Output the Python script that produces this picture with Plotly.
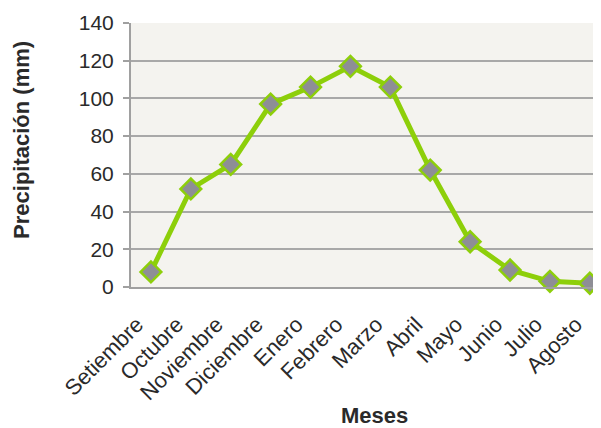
import plotly.graph_objects as go

meses = ["Setiembre", "Octubre", "Noviembre", "Diciembre", "Enero", "Febrero",
         "Marzo", "Abril", "Mayo", "Junio", "Julio", "Agosto"]
precipitacion = [8, 52, 65, 97, 106, 117, 106, 62, 24, 9, 3, 2]
y_ticks = [0, 20, 40, 60, 80, 100, 120, 140]

fig = go.Figure()
fig.add_trace(go.Scatter(
    x=list(range(len(meses))), y=precipitacion, mode="lines+markers",
    line=dict(color="#8DCF0A", width=5),
    marker=dict(symbol="diamond", size=16, color="#8E8E96",
                line=dict(color="#8DCF0A", width=2.5)),
    cliponaxis=False, showlegend=False,
))

font = "Liberation Sans, Arial, sans-serif"
txt = "#2A2A2A"
fig.update_layout(
    width=593, height=420,
    margin=dict(l=123, r=0, t=15, b=141),
    paper_bgcolor="white", plot_bgcolor="#F4F3EF",
    font=dict(family=font, color=txt),
    xaxis=dict(
        range=[-0.5, 11.28], tickmode="array",
        tickvals=list(range(len(meses))), ticktext=meses,
        tickangle=-45, tickfont=dict(size=22, color=txt),
        ticklabelstandoff=14, ticklabelshift=-14,
        showgrid=False, showline=True, linecolor="#A0A0A0", linewidth=2,
        ticks="", zeroline=False,
    ),
    yaxis=dict(
        range=[0, 140], tickmode="array", tickvals=y_ticks,
        tickfont=dict(size=21, color=txt), ticklabelstandoff=5,
        showgrid=True, gridcolor="#A8A8A8", gridwidth=2,
        showline=True, linecolor="#A0A0A0", linewidth=2,
        ticks="outside", ticklen=6, tickcolor="#A0A0A0", tickwidth=2,
        zeroline=False,
    ),
    annotations=[
        dict(text="<b>Precipitación (mm)</b>", textangle=-90,
             xref="paper", x=0, xshift=-109, xanchor="center",
             yref="y", y=78, yanchor="middle", showarrow=False,
             font=dict(size=22, color=txt)),
        dict(text="<b>Meses</b>",
             xref="x", x=5.6, xanchor="center",
             yref="paper", y=0, yshift=-128, yanchor="middle", showarrow=False,
             font=dict(size=22, color=txt)),
    ],
)

fig.write_html("out.html")
